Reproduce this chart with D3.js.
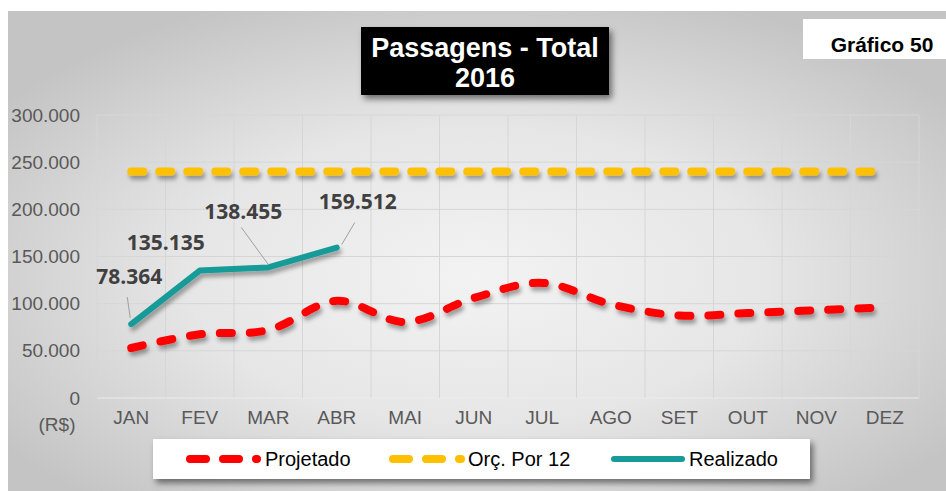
<!DOCTYPE html>
<html lang="pt">
    <head>
        <meta charset="utf-8">
        <title>Passagens - Total 2016</title>
        <script src="https://cdn.jsdelivr.net/npm/d3@7/dist/d3.min.js" charset="utf-8"></script>
        <style type="text/css">
            body { margin: 0; background: #fff; }
            svg { display: block; font-family: "Liberation Sans", Arial, sans-serif; }
        </style>
    </head>
    <body>
        <div id="chart"></div>
        <script>
            // Dados
            var meses = ["JAN", "FEV", "MAR", "ABR", "MAI", "JUN", "JUL", "AGO", "SET", "OUT", "NOV", "DEZ"];
            var projetado = [53000, 67500, 72000, 103000, 80500, 106000, 122000, 99500, 87500, 90000, 93000, 96000];
            var orcPor12 = [240000, 240000, 240000, 240000, 240000, 240000, 240000, 240000, 240000, 240000, 240000, 240000];
            var realizado = [78364, 135135, 138455, 159512];
            var yTicks = [0, 50000, 100000, 150000, 200000, 250000, 300000];
            var serieNomes = ["Projetado", "Orç. Por 12", "Realizado"];

            var W = 946, H = 491;
            var svg = d3.select("#chart").append("svg")
                .attr("width", W)
                .attr("height", H);

            var defs = svg.append("defs");
            var grad = defs.append("radialGradient")
                .attr("id", "fundo")
                .attr("cx", "50%").attr("cy", "55%").attr("r", "62%");
            grad.append("stop").attr("offset", "0%").attr("stop-color", "#f3f3f3");
            grad.append("stop").attr("offset", "50%").attr("stop-color", "#e6e6e6");
            grad.append("stop").attr("offset", "100%").attr("stop-color", "#c4c4c4");

            // sombras em coordenadas absolutas (linha horizontal tem altura 0)
            var sombra = defs.append("filter").attr("id", "sombra")
                .attr("filterUnits", "userSpaceOnUse")
                .attr("x", 0).attr("y", 0).attr("width", W).attr("height", H);
            sombra.append("feDropShadow")
                .attr("dx", 2).attr("dy", 4).attr("stdDeviation", 2)
                .attr("flood-color", "#000").attr("flood-opacity", 0.35);

            var sombraCaixa = defs.append("filter").attr("id", "sombraCaixa")
                .attr("filterUnits", "userSpaceOnUse")
                .attr("x", 0).attr("y", 0).attr("width", W).attr("height", H);
            sombraCaixa.append("feDropShadow")
                .attr("dx", 3).attr("dy", 4).attr("stdDeviation", 3)
                .attr("flood-color", "#000").attr("flood-opacity", 0.5);

            // Fundo
            svg.append("rect")
                .attr("x", 8).attr("y", 11)
                .attr("width", W - 8).attr("height", H - 11)
                .style("fill", "url(#fundo)");

            // Escalas
            var x = d3.scaleBand()
                .domain(meses)
                .range([97, 919]);

            var y = d3.scaleLinear()
                .domain([0, 300000])
                .range([398, 115]);

            var cx = function(d, i) { return x(meses[i]) + x.bandwidth() / 2; };

            // Grade
            var grade = svg.append("g");
            grade.selectAll(".h")
                .data(yTicks)
                .enter()
                .append("line")
                .attr("x1", 97).attr("x2", 919)
                .attr("y1", function(d) { return y(d); })
                .attr("y2", function(d) { return y(d); })
                .style("stroke", function(d) { return d === 0 ? "#ececec" : "#d6d6d6"; })
                .style("stroke-width", 1);
            grade.selectAll(".v")
                .data(meses.concat(["fim"]))
                .enter()
                .append("line")
                .attr("x1", function(d, i) { return 97 + i * x.bandwidth(); })
                .attr("x2", function(d, i) { return 97 + i * x.bandwidth(); })
                .attr("y1", y(300000)).attr("y2", y(0))
                .style("stroke", "#d6d6d6")
                .style("stroke-width", 1);

            // Eixo y
            var fmt = function(d) { return d === 0 ? "0" : d3.format(",")(d).replace(/,/g, "."); };
            var yAxis = d3.axisLeft(y).tickValues(yTicks).tickFormat(fmt).tickSize(0).tickPadding(0);
            var gy = svg.append("g")
                .attr("transform", "translate(80,0)")
                .call(yAxis);
            gy.select(".domain").remove();
            gy.selectAll("text")
                .style("font-family", "'Liberation Sans', Arial, sans-serif")
                .style("font-size", "19px")
                .style("fill", "#595959");

            // Eixo x
            var xAxis = d3.axisBottom(x).tickSize(0).tickPadding(0);
            var gx = svg.append("g")
                .attr("transform", "translate(0,410)")
                .call(xAxis);
            gx.select(".domain").remove();
            gx.selectAll("text")
                .style("font-family", "'Liberation Sans', Arial, sans-serif")
                .style("font-size", "19px")
                .style("fill", "#595959");

            svg.append("text")
                .attr("x", 57).attr("y", 431)
                .attr("text-anchor", "middle")
                .style("font-size", "19px")
                .style("fill", "#595959")
                .text("(R$)");

            // Linhas
            var linhaReta = d3.line()
                .x(cx)
                .y(function(d) { return y(d); });
            var linhaSuave = d3.line()
                .x(cx)
                .y(function(d) { return y(d); })
                .curve(d3.curveCatmullRom.alpha(0.5));

            svg.append("path")
                .datum(orcPor12)
                .attr("d", linhaReta)
                .style("fill", "none")
                .style("stroke", "#ffc000")
                .style("stroke-width", 8)
                .style("stroke-linecap", "round")
                .style("stroke-dasharray", "12,16")
                .attr("filter", "url(#sombra)");

            svg.append("path")
                .datum(projetado)
                .attr("d", linhaSuave)
                .style("fill", "none")
                .style("stroke", "#ff0000")
                .style("stroke-width", 8)
                .style("stroke-linecap", "round")
                .style("stroke-dasharray", "12,18")
                .attr("filter", "url(#sombra)");

            svg.append("path")
                .datum(realizado)
                .attr("d", linhaReta)
                .style("fill", "none")
                .style("stroke", "#169b98")
                .style("stroke-width", 6)
                .style("stroke-linecap", "round")
                .style("stroke-linejoin", "round")
                .attr("filter", "url(#sombra)");

            // Rótulos de dados: deslocamento relativo ao ponto
            var rotuloDx = [-2, -34, -25, 21];
            var rotuloDy = [-47, -28, -56, -46];
            // linhas guia: [x1, y1, x2, y2] relativos ao ponto (null = sem guia)
            var guia = [[-4, -27, -1, -6], null, [-27, -40, 0, -3], [18, -25, 5, -3]];

            var rotulos = svg.selectAll(".rotulo")
                .data(realizado)
                .enter()
                .append("g")
                .attr("class", "rotulo")
                .attr("transform", function(d, i) { return "translate(" + cx(d, i) + "," + y(d) + ")"; });

            rotulos.filter(function(d, i) { return guia[i] !== null; })
                .append("line")
                .attr("x1", function(d) { return guia[realizado.indexOf(d)][0]; })
                .attr("y1", function(d) { return guia[realizado.indexOf(d)][1]; })
                .attr("x2", function(d) { return guia[realizado.indexOf(d)][2]; })
                .attr("y2", function(d) { return guia[realizado.indexOf(d)][3]; })
                .style("stroke", "#a0a0a0")
                .style("stroke-width", 1);

            rotulos.append("text")
                .attr("x", function(d, i) { return rotuloDx[i]; })
                .attr("y", function(d, i) { return rotuloDy[i]; })
                .attr("dy", "0.35em")
                .attr("text-anchor", "middle")
                .style("font-family", "'Open Sans', sans-serif")
                .style("font-weight", "bold")
                .style("font-size", "21px")
                .style("fill", "#404040")
                .text(function(d) { return fmt(d); });

            // Título
            svg.append("rect")
                .attr("x", 361).attr("y", 27)
                .attr("width", 248).attr("height", 68)
                .style("fill", "#000")
                .attr("filter", "url(#sombraCaixa)");
            svg.append("text")
                .attr("x", 485).attr("y", 57)
                .attr("text-anchor", "middle")
                .style("font-size", "27px")
                .style("font-weight", "bold")
                .style("fill", "#fff")
                .text("Passagens - Total");
            svg.append("text")
                .attr("x", 485).attr("y", 87)
                .attr("text-anchor", "middle")
                .style("font-size", "27px")
                .style("font-weight", "bold")
                .style("fill", "#fff")
                .text("2016");

            // Gráfico 50
            svg.append("rect")
                .attr("x", 803).attr("y", 19)
                .attr("width", 143).attr("height", 40)
                .style("fill", "#fff");
            svg.append("text")
                .attr("x", 882).attr("y", 52)
                .attr("text-anchor", "middle")
                .style("font-size", "21px")
                .style("font-weight", "bold")
                .style("fill", "#000")
                .text("Gráfico 50");

            // Legenda
            svg.append("rect")
                .attr("x", 153).attr("y", 439)
                .attr("width", 657).attr("height", 40)
                .style("fill", "#fff")
                .attr("filter", "url(#sombraCaixa)");

            var legX = [186, 389, 610];
            var legCor = ["#ff0000", "#ffc000", "#169b98"];
            var legDash = ["16,17", "16,17", null];
            var legLarg = [8, 8, 6];
            var legFim = [71, 72, 72];

            var leg = svg.selectAll(".leg")
                .data(serieNomes)
                .enter()
                .append("g")
                .attr("class", "leg")
                .attr("transform", function(d, i) { return "translate(" + legX[i] + ",459)"; });

            leg.append("line")
                .attr("x1", 4)
                .attr("x2", function(d, i) { return legFim[i]; })
                .attr("y1", 0).attr("y2", 0)
                .style("stroke", function(d, i) { return legCor[i]; })
                .style("stroke-width", function(d, i) { return legLarg[i]; })
                .style("stroke-linecap", "round")
                .style("stroke-dasharray", function(d, i) { return legDash[i]; });

            leg.append("text")
                .attr("x", 79)
                .attr("y", 0)
                .attr("dy", "0.35em")
                .style("font-size", "20px")
                .style("fill", "#000")
                .text(function(d) { return d; });
        </script>
    </body>
</html>
